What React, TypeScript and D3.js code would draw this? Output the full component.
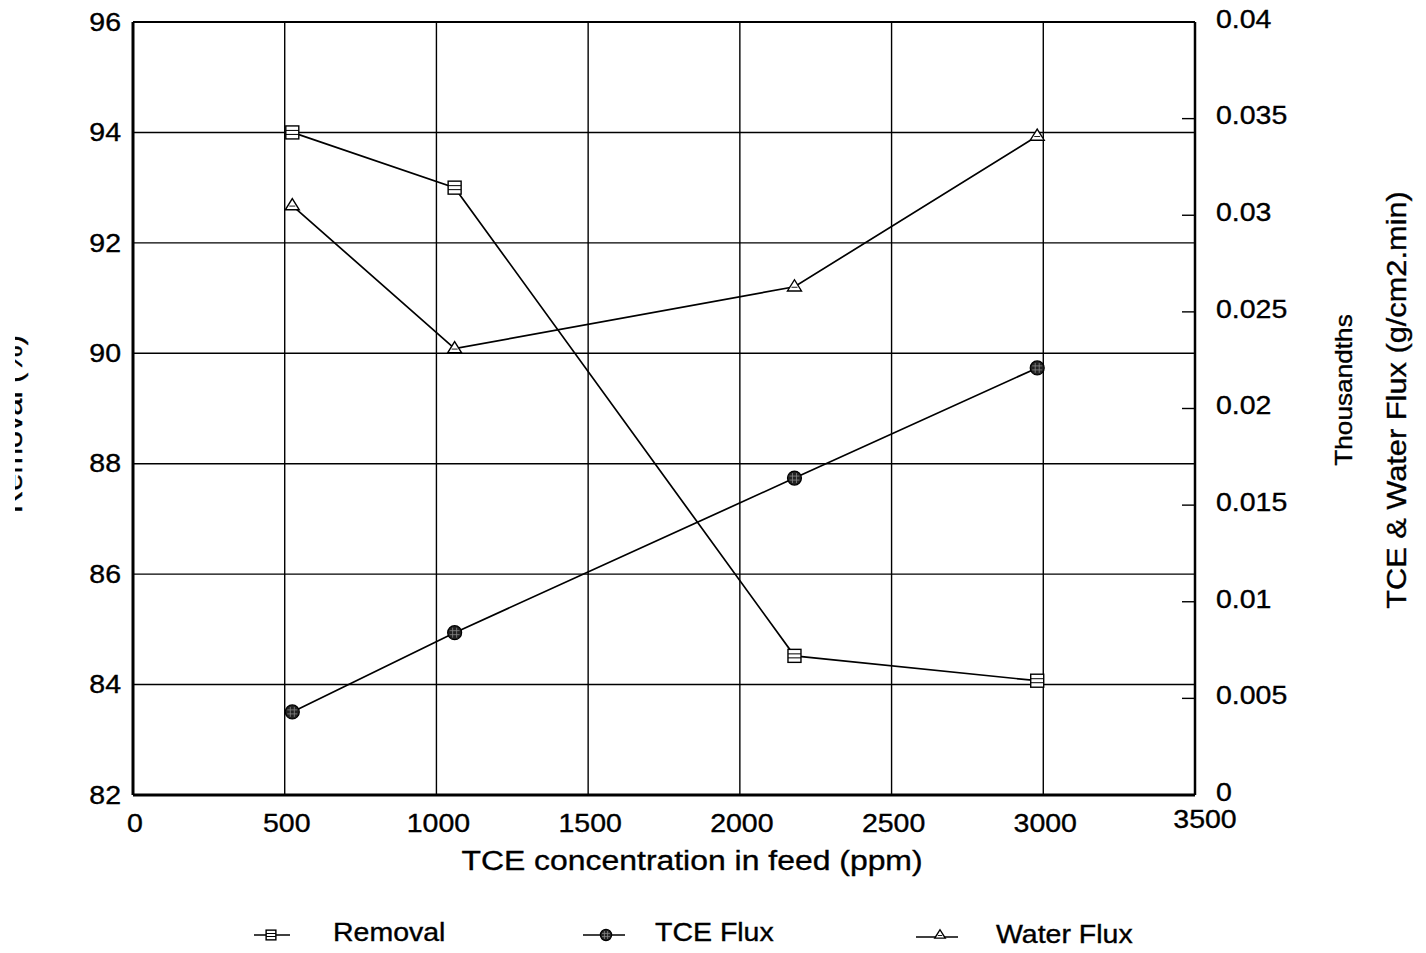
import React from "react";
import * as d3 from "d3";

const concentrations = [525, 1060, 2180, 2980];
const removal = [94.0, 93.0, 84.52, 84.07];
const tceFlux = [0.0043, 0.0084, 0.0164, 0.0221];
const waterFlux = [0.0305, 0.0231, 0.0263, 0.0341];

const xTicks = [0, 500, 1000, 1500, 2000, 2500, 3000, 3500];
const leftTicks = [82, 84, 86, 88, 90, 92, 94, 96];
const rightTicks = [0, 0.005, 0.01, 0.015, 0.02, 0.025, 0.03, 0.035, 0.04];
const rightTickLabels = ["0", "0.005", "0.01", "0.015", "0.02", "0.025", "0.03", "0.035", "0.04"];

const W = 1426;
const H = 953;
const L = 133, R = 1195, T = 22, B = 795;
const FONT = "'Liberation Sans', Arial, Helvetica, sans-serif";
const SX = 1.14;

function Txt({ x, y, size, anchor = "start", rotate = 0, dy, children }: any) {
  return (
    <text
      transform={`translate(${x},${y}) rotate(${rotate}) scale(${SX},1)`}
      textAnchor={anchor}
      fontSize={size}
      dy={dy}
      fill="#000"
      stroke="#000"
      strokeWidth={0.35}
    >
      {children}
    </text>
  );
}

function SquareMarker({ x, y, k = 1 }: { x: number; y: number; k?: number }) {
  const s = 6.5 * k;
  return (
    <g>
      <rect x={x - s} y={y - s} width={2 * s} height={2 * s} fill="#fff" stroke="#000" strokeWidth={1.4} />
      <line x1={x - s} x2={x + s} y1={y - 2 * k} y2={y - 2 * k} stroke="#000" strokeWidth={1} />
      <line x1={x - s} x2={x + s} y1={y + 2 * k} y2={y + 2 * k} stroke="#000" strokeWidth={1} />
    </g>
  );
}

function CircleMarker({ x, y, k = 1 }: { x: number; y: number; k?: number }) {
  const r = 7 * k;
  const a = 5 * k, b = 2 * k;
  return (
    <g>
      <circle cx={x} cy={y} r={r} fill="#222" stroke="#000" strokeWidth={1.2} />
      <line x1={x - a} x2={x + a} y1={y - b} y2={y - b} stroke="#888" strokeWidth={0.8} />
      <line x1={x - a} x2={x + a} y1={y + b} y2={y + b} stroke="#888" strokeWidth={0.8} />
      <line x1={x - b} x2={x - b} y1={y - a} y2={y + a} stroke="#888" strokeWidth={0.8} />
      <line x1={x + b} x2={x + b} y1={y - a} y2={y + a} stroke="#888" strokeWidth={0.8} />
    </g>
  );
}

function TriangleMarker({ x, y, k = 1 }: { x: number; y: number; k?: number }) {
  const s = 7 * k;
  return (
    <g>
      <path d={`M${x},${y - s} L${x + s},${y + s * 0.6} L${x - s},${y + s * 0.6} Z`} fill="#fff" stroke="#000" strokeWidth={1.4} />
      <line x1={x - 3 * k} x2={x + 3 * k} y1={y + 0.5} y2={y + 0.5} stroke="#000" strokeWidth={0.9} />
    </g>
  );
}

export default function App() {
  const x = d3.scaleLinear().domain([0, 3500]).range([L, R]);
  const yL = d3.scaleLinear().domain([82, 96]).range([B, T]);
  const yR = d3.scaleLinear().domain([0, 0.04]).range([B, T]);

  const remPts: [number, number][] = concentrations.map((c, i) => [x(c), yL(removal[i])]);
  const tcePts: [number, number][] = concentrations.map((c, i) => [x(c), yR(tceFlux[i])]);
  const watPts: [number, number][] = concentrations.map((c, i) => [x(c), yR(waterFlux[i])]);
  const line = d3.line();

  return (
    <svg width={W} height={H} style={{ position: "absolute", left: 0, top: 0, background: "#fff" }} fontFamily={FONT}>
      <defs>
        <clipPath id="leftClip">
          <rect x={15} y={0} width={60} height={H} />
        </clipPath>
      </defs>
      <rect x={0} y={0} width={W} height={H} fill="#fff" />
      {/* gridlines */}
      {leftTicks.slice(1, -1).map((t) => (
        <line key={"h" + t} x1={L} x2={R} y1={yL(t)} y2={yL(t)} stroke="#000" strokeWidth={1.4} />
      ))}
      {xTicks.slice(1, -1).map((t) => (
        <line key={"v" + t} x1={x(t)} x2={x(t)} y1={T} y2={B} stroke="#000" strokeWidth={1.4} />
      ))}
      {/* right ticks */}
      {rightTicks.slice(1, -1).map((t) => (
        <line key={"rt" + t} x1={R - 13} x2={R} y1={yR(t)} y2={yR(t)} stroke="#000" strokeWidth={1.4} />
      ))}
      {/* frame */}
      <line x1={L} x2={R} y1={T} y2={T} stroke="#000" strokeWidth={2.2} />
      <line x1={L} x2={R} y1={B} y2={B} stroke="#000" strokeWidth={3} />
      <line x1={L} x2={L} y1={T} y2={B} stroke="#000" strokeWidth={3} />
      <line x1={R} x2={R} y1={T} y2={B} stroke="#000" strokeWidth={2.5} />

      {/* left tick labels */}
      {leftTicks.map((t) => (
        <Txt key={"lt" + t} x={121} y={yL(t)} dy="0.35em" anchor="end" size={25}>{t}</Txt>
      ))}
      {/* right tick labels */}
      {rightTicks.map((t, i) => (
        <Txt key={"rl" + t} x={1216} y={yR(t) - 3} dy="0.35em" size={25}>{rightTickLabels[i]}</Txt>
      ))}
      {/* x tick labels */}
      {xTicks.map((t) => (
        <Txt key={"xt" + t} x={x(t) + (t === 3500 ? 10 : 2)} y={t === 3500 ? 828 : 832} anchor="middle" size={25}>{t}</Txt>
      ))}

      {/* axis titles */}
      <Txt x={692} y={870} anchor="middle" size={28}>TCE concentration in feed (ppm)</Txt>
      <g clipPath="url(#leftClip)">
        <Txt x={22} y={424} rotate={-90} anchor="middle" size={27}>Removal (%)</Txt>
      </g>
      <Txt x={1352} y={390} rotate={-90} anchor="middle" size={23}>Thousandths</Txt>
      <Txt x={1406} y={400} rotate={-90} anchor="middle" size={27}>TCE &amp; Water Flux (g/cm2.min)</Txt>

      {/* series lines */}
      <path d={line(remPts) || ""} fill="none" stroke="#000" strokeWidth={1.7} />
      <path d={line(tcePts) || ""} fill="none" stroke="#000" strokeWidth={1.7} />
      <path d={line(watPts) || ""} fill="none" stroke="#000" strokeWidth={1.7} />
      {remPts.map(([px, py], i) => <SquareMarker key={"sm" + i} x={px} y={py} />)}
      {tcePts.map(([px, py], i) => <CircleMarker key={"cm" + i} x={px} y={py} />)}
      {watPts.map(([px, py], i) => <TriangleMarker key={"tm" + i} x={px} y={py} />)}

      {/* legend */}
      <line x1={254} x2={290} y1={935} y2={935} stroke="#000" strokeWidth={1.7} />
      <SquareMarker x={271} y={935} k={0.75} />
      <Txt x={333} y={941} size={25}>Removal</Txt>
      <line x1={583} x2={625} y1={935} y2={935} stroke="#000" strokeWidth={1.7} />
      <CircleMarker x={606} y={935} k={0.8} />
      <Txt x={655} y={941} size={25}>TCE Flux</Txt>
      <line x1={916} x2={958} y1={937} y2={937} stroke="#000" strokeWidth={1.7} />
      <TriangleMarker x={940} y={935} k={0.75} />
      <Txt x={996} y={943} size={25}>Water Flux</Txt>
    </svg>
  );
}
